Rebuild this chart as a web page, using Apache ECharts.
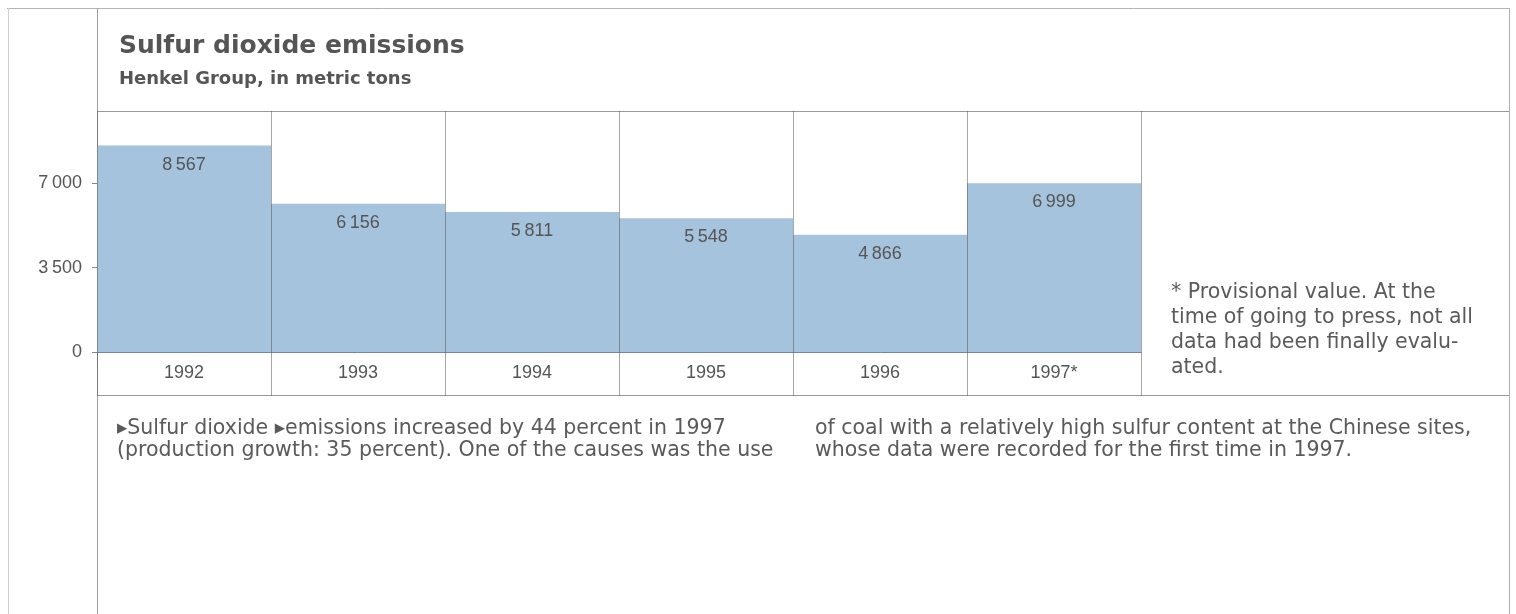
<!DOCTYPE html>
<html>
<head>
<meta charset="utf-8">
<title>Sulfur dioxide emissions</title>
<script src="https://cdn.jsdelivr.net/npm/echarts@6/dist/echarts.min.js"></script>
<style>
    html, body { margin: 0; padding: 0; background: #fff; }
    #chart { width: 1516px; height: 614px; }
</style>
</head>
<body>
<div id="chart"></div>
<script>
// data
var years = ['1992', '1993', '1994', '1995', '1996', '1997*'];
var emissions = [8567, 6156, 5811, 5548, 4866, 6999];
var yTicks = [0, 3500, 7000];

var footnoteLines = [
    '* Provisional value. At the',
    'time of going to press, not all',
    'data had been finally evalu-',
    'ated.'
];
var textLeft = [
    '\u25B8Sulfur dioxide \u25B8emissions increased by 44 percent in 1997',
    '(production growth: 35 percent). One of the causes was the use'
];
var textRight = [
    'of coal with a relatively high sulfur content at the Chinese sites,',
    'whose data were recorded for the first time in 1997.'
];

// 7000 -> "7 000"
function fmtNum(v) {
    var s = String(v);
    if (s.length > 3) {
        s = s.slice(0, s.length - 3) + '\u2009' + s.slice(s.length - 3);
    }
    return s;
}

function frameLine(x1, y1, x2, y2, color) {
    return {
        type: 'line',
        silent: true,
        shape: { x1: x1, y1: y1, x2: x2, y2: y2 },
        style: { stroke: color, lineWidth: 1 }
    };
}

function textBlock(x, y, lines, size, lh) {
    return {
        type: 'text',
        silent: true,
        left: x,
        top: y,
        style: {
            text: lines.join('\n'),
            fill: '#5a5a5a',
            font: size + 'px "DejaVu Sans"',
            lineHeight: lh
        }
    };
}

var chartDom = document.getElementById('chart');
var myChart = echarts.init(chartDom);

var sepColor = 'rgba(80,80,80,0.5)';
var numFont = '"Liberation Sans", Arial, sans-serif';

var option = {
    animation: false,
    backgroundColor: '#fff',
    title: {
        text: 'Sulfur dioxide emissions',
        subtext: 'Henkel Group, in metric tons',
        left: 119,
        top: 32,
        padding: 0,
        itemGap: 9,
        textStyle: {
            fontFamily: 'DejaVu Sans',
            fontWeight: 'bold',
            fontSize: 25,
            lineHeight: 28,
            color: '#555'
        },
        subtextStyle: {
            fontFamily: 'DejaVu Sans',
            fontWeight: 'bold',
            fontSize: 18,
            lineHeight: 20,
            color: '#555'
        }
    },
    grid: {
        left: 97,
        right: 375,
        top: 111,
        bottom: 262
    },
    xAxis: {
        type: 'category',
        data: years,
        z: 3,
        axisLine: { lineStyle: { color: '#72879d', width: 1 } },
        axisTick: {
            show: true,
            interval: 0,
            length: 44,
            lineStyle: { color: sepColor }
        },
        splitLine: {
            show: true,
            interval: 0,
            lineStyle: { color: sepColor }
        },
        axisLabel: {
            margin: 12,
            fontFamily: numFont,
            fontSize: 18,
            color: '#555'
        }
    },
    yAxis: {
        type: 'value',
        min: 0,
        max: 10000,
        interval: 3500,
        axisLine: { show: false },
        splitLine: { show: false },
        axisTick: {
            show: true,
            length: 5,
            customValues: yTicks,
            lineStyle: { color: '#888' }
        },
        axisLabel: {
            margin: 15,
            customValues: yTicks,
            fontFamily: numFont,
            fontSize: 18,
            color: '#555',
            formatter: fmtNum
        }
    },
    series: [
        {
            name: 'SO2',
            type: 'bar',
            data: emissions,
            barCategoryGap: '0%',
            itemStyle: { color: '#a6c3de' },
            label: {
                show: true,
                position: 'insideTop',
                distance: 10,
                fontFamily: numFont,
                fontSize: 18,
                color: '#555',
                formatter: function (p) { return fmtNum(p.value); }
            }
        }
    ],
    graphic: [
        frameLine(7, 8.5, 1509, 8.5, '#b5b5b5'),
        frameLine(8.5, 8, 8.5, 614, '#d0d0d0'),
        frameLine(97.5, 8, 97.5, 614, '#a0a0a0'),
        frameLine(1509.5, 8, 1509.5, 614, '#b0b0b0'),
        frameLine(97, 111.5, 1509, 111.5, '#999'),
        frameLine(97, 395.5, 1509, 395.5, '#999'),
        textBlock(1171, 280, footnoteLines, 20.5, 25),
        textBlock(117, 418, textLeft, 20.5, 22),
        textBlock(815, 418, textRight, 20.5, 22)
    ]
};

option && myChart.setOption(option);
</script>
</body>
</html>
